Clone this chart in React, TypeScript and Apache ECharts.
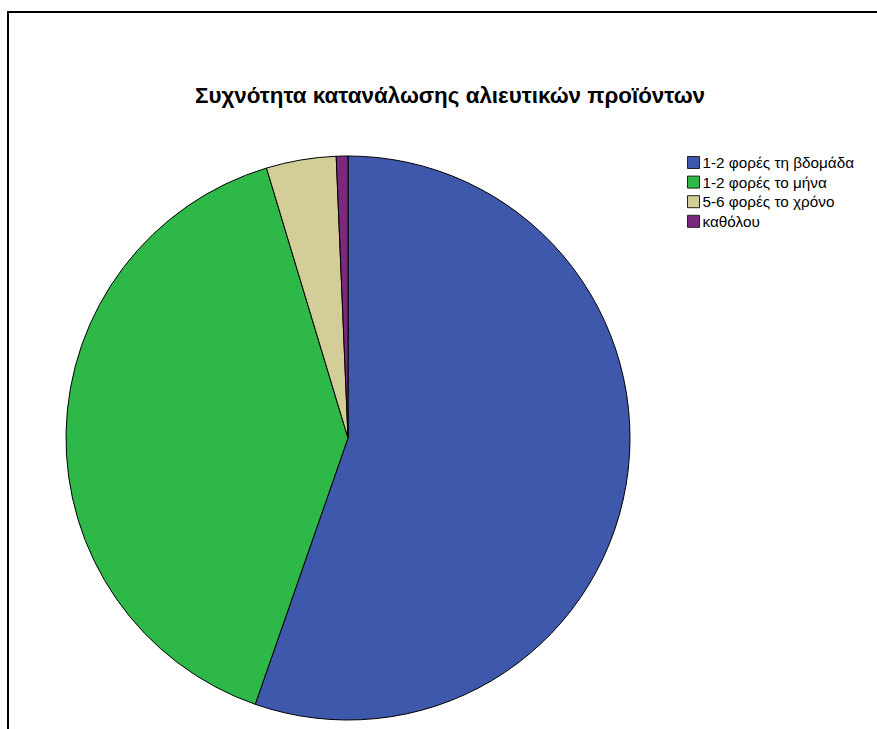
import React, { useEffect, useRef } from "react";
import * as echarts from "echarts";

const categories = ["1-2 φορές τη βδομάδα", "1-2 φορές το μήνα", "5-6 φορές το χρόνο", "καθόλου"];
const counts = [83, 60, 6, 1];
const colors = ["#3E58AC", "#2EB848", "#D3CE97", "#7C287D"];
const title = "Συχνότητα κατανάλωσης αλιευτικών προϊόντων";

export default function App() {
  const ref = useRef<HTMLDivElement>(null);
  useEffect(() => {
    if (!ref.current) return;
    const chart = echarts.init(ref.current, null, { renderer: "svg" });
    chart.setOption({
      animation: false,
      backgroundColor: "#ffffff",
      title: {
        text: title,
        left: 450,
        top: 84,
        padding: 0,
        textAlign: "center",
        textStyle: { fontFamily: "Liberation Sans, Arial, sans-serif", fontWeight: "bold", fontSize: 22.4, color: "#000" },
      },
      legend: {
        orient: "vertical",
        left: 687,
        top: 155,
        padding: 0,
        itemWidth: 12,
        itemHeight: 12,
        itemGap: 4.6,
        icon: "rect",
        selectedMode: false,
        itemStyle: { borderColor: "#222", borderWidth: 1 },
        textStyle: { fontFamily: "Liberation Sans, Arial, sans-serif", fontSize: 15.3, color: "#000", padding: [0, 0, 0, -2] },
        data: categories,
      },
      graphic: [
        { type: "line", shape: { x1: 7, y1: 12, x2: 877, y2: 12 }, style: { stroke: "#000", lineWidth: 2 } },
        { type: "line", shape: { x1: 8, y1: 11, x2: 8, y2: 729 }, style: { stroke: "#000", lineWidth: 2 } },
      ],
      series: [
        {
          type: "pie",
          center: [348, 438],
          radius: 282,
          startAngle: 90,
          clockwise: true,
          label: { show: false },
          labelLine: { show: false },
          emphasis: { disabled: true },
          itemStyle: { borderColor: "#000", borderWidth: 1 },
          data: categories.map((c, i) => ({ name: c, value: counts[i], itemStyle: { color: colors[i] } })),
        },
      ],
    });
    return () => chart.dispose();
  }, []);
  return <div ref={ref} style={{ position: "fixed", left: 0, top: 0, width: 877, height: 729 }} />;
}
